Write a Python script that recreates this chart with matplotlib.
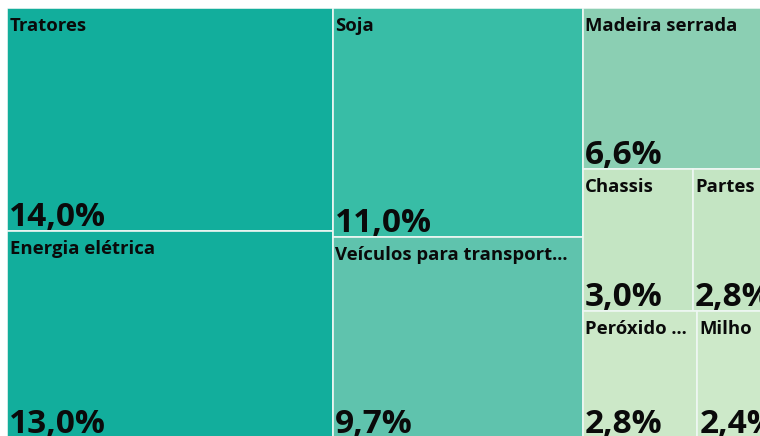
import matplotlib.pyplot as plt
from matplotlib.patches import Rectangle

plt.rcParams['font.family'] = ['Open Sans', 'DejaVu Sans']

rotulos = ['Tratores', 'Energia elétrica', 'Soja', 'Veículos para transport...',
           'Madeira serrada', 'Chassis', 'Partes', 'Peróxido ...', 'Milho']
valores = [14.0, 13.0, 11.0, 9.7, 6.6, 3.0, 2.8, 2.8, 2.4]
cores = ['#12ae9c', '#12ae9c', '#38bda6', '#5fc3ad', '#8bcfb3',
         '#c4e5c3', '#c4e5c3', '#cce8c8', '#cde9c9']

# colunas -> linhas -> itens (indices em rotulos/valores)
colunas = [[[0], [1]],
           [[2], [3]],
           [[4], [5, 6], [7, 8]]]

fig = plt.figure(figsize=(7.6, 4.36), dpi=100)
ax = fig.add_axes([7 / 760, -2 / 436, 753 / 760, 430 / 436])
ax.set_xlim(0, 753 / 12.07)
ax.set_ylim(1, 0)
ax.axis('off')

x = 0.0
for col in colunas:
    total_col = sum(valores[i] for linha in col for i in linha)
    y = 0.0
    for linha in col:
        total_linha = sum(valores[i] for i in linha)
        h = total_linha / total_col
        xi = x
        for i in linha:
            w = valores[i] / h
            ax.add_patch(Rectangle((xi, y), w, h, facecolor=cores[i],
                                   edgecolor='#eef7f3', linewidth=1.2))
            ax.annotate(rotulos[i], (xi, y), xytext=(1.8, -6.5), textcoords='offset points',
                        ha='left', va='top', fontsize=13.3, fontweight='bold',
                        color='#0a0a0a', annotation_clip=False)
            pct = f'{valores[i]:.1f}%'.replace('.', ',')
            ax.annotate(pct, (xi, y + h), xytext=(1.5, 3.5), textcoords='offset points',
                        ha='left', va='baseline', fontsize=24, fontweight='bold',
                        color='#0a0a0a', annotation_clip=False)
            xi += w
        y += h
    x += total_col

fig.savefig('out.png', dpi=100, facecolor='white')
